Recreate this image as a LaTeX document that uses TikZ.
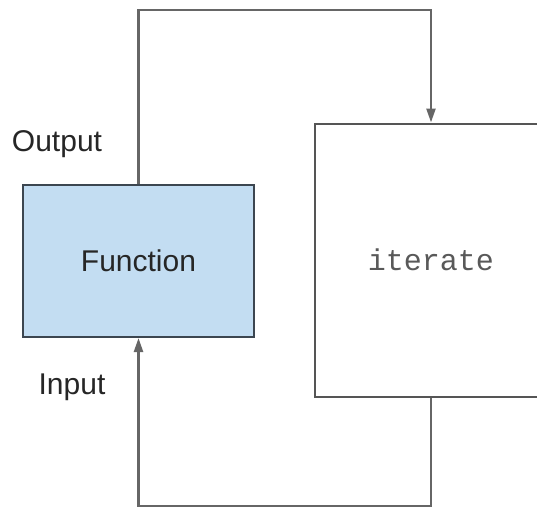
\documentclass[tikz,border=0pt]{standalone}
\usepackage{fontspec}
\setmainfont{Liberation Sans}
\newfontfamily\codefont{Liberation Mono}
\usetikzlibrary{arrows.meta}
\definecolor{funcfill}{HTML}{C3DDF2}
\definecolor{funcline}{HTML}{3C4650}
\definecolor{boxline}{HTML}{555555}
\definecolor{connline}{HTML}{666666}
\begin{document}
\begin{tikzpicture}[x=0.5pt,y=-0.5pt,
  funcbox/.style={draw=funcline,line width=1pt,fill=funcfill,minimum width=115.5pt,minimum height=76pt,inner sep=0pt,font=\fontsize{15}{18}\selectfont,text=black!85},
  iterbox/.style={draw=boxline,line width=1pt,fill=white,minimum width=116pt,minimum height=136.5pt,inner sep=0pt,font=\codefont\fontsize{15}{18}\selectfont,text=black!65},
  conn/.style={draw=connline,line width=1.2pt},
  tip/.style={-{Triangle[length=7pt,width=4.5pt]}},
  lbl/.style={font=\fontsize{15}{18}\selectfont,inner sep=0pt,text=black!85}]
\path[use as bounding box,clip] (0,0) rectangle (537,509);
\node[funcbox] (func) at (138.5,261) {Function};
\node[iterbox] (iter) at (431,260) {iterate};
\coordinate (top) at (138,10);
\coordinate (bot) at (138,506);
\draw[conn,tip] (func.north) -- (func.north |- top) -| (iter.north);
\draw[conn,tip] (iter.south) |- (func.south |- bot) -- (func.south);
\node[lbl] (out) at (57,144) {Output};
\node[lbl] (in) at (72,387) {Input};
\end{tikzpicture}
\end{document}
